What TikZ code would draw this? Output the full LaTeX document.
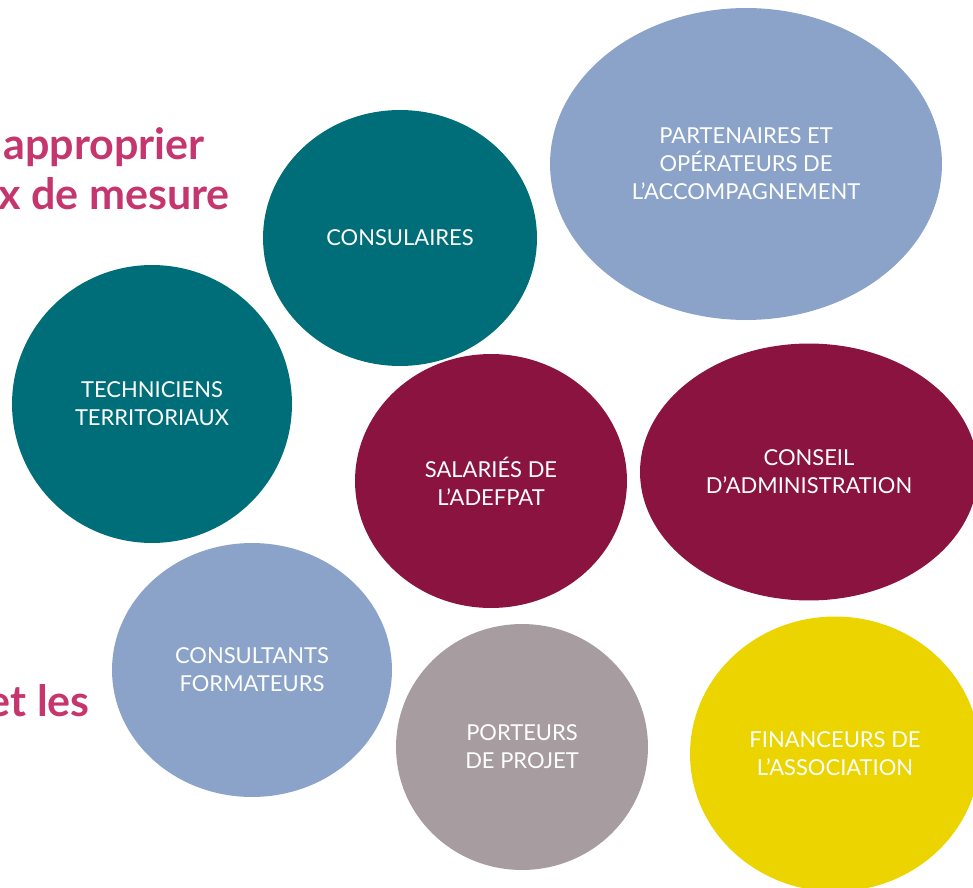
\documentclass[tikz,border=0pt]{standalone}
\usepackage{fontspec}
\setmainfont{Lato}
\usetikzlibrary{shapes.geometric}

\definecolor{teal}{HTML}{006E78}
\definecolor{bleu}{HTML}{8BA3C9}
\definecolor{bordeaux}{HTML}{8A143F}
\definecolor{gris}{HTML}{A79C9F}
\definecolor{jaune}{HTML}{EBD400}
\definecolor{rose}{HTML}{C5366F}

\tikzset{
	bulle/.style={ellipse,inner sep=0pt,text=white,align=center,
		font=\fontsize{12.5}{16}\selectfont},
	titre/.style={anchor=base east,text=rose,inner sep=0pt,
		font=\fontsize{24.5}{28}\selectfont\bfseries}
}

\begin{document}
\begin{tikzpicture}[x=0.02cm,y=-0.02cm]
	\useasboundingbox (0,0) rectangle (973,888);
	\clip (0,0) rectangle (973,888);
	\node[titre] (t1) at (205,160) {approprier};
	\node[titre] (t2) at (230,210) {x de mesure};
	\node[titre] (t3) at (90,716) {et les};
	\node[bulle,fill=teal,minimum width=5.48cm,minimum height=5.12cm] (cons) at (400,238) {CONSULAIRES};
	\node[bulle,fill=bleu,minimum width=7.84cm,minimum height=6.24cm] (part) at (746,164) {PARTENAIRES ET\\OPÉRATEURS DE\\L'ACCOMPAGNEMENT};
	\node[bulle,fill=teal,minimum width=5.6cm,minimum height=5.56cm] (tech) at (152,404) {TECHNICIENS\\TERRITORIAUX};
	\node[bulle,fill=bordeaux,minimum width=5.44cm,minimum height=5.08cm] (sal) at (491,481) {SALARIÉS DE\\L'ADEFPAT};
	\node[bulle,fill=bordeaux,minimum width=6.76cm,minimum height=5.14cm] (ca) at (809,472) {CONSEIL\\D'ADMINISTRATION};
	\node[bulle,fill=bleu,minimum width=5.6cm,minimum height=5.08cm] (consu) at (252,670) {CONSULTANTS\\FORMATEURS};
	\node[bulle,fill=gris,minimum width=5.04cm,minimum height=4.92cm] (port) at (522,747) {PORTEURS\\DE PROJET};
	\node[bulle,fill=jaune,minimum width=5.8cm,minimum height=5.5cm] (fin) at (835,754) {FINANCEURS DE\\L'ASSOCIATION};
\end{tikzpicture}
\end{document}
